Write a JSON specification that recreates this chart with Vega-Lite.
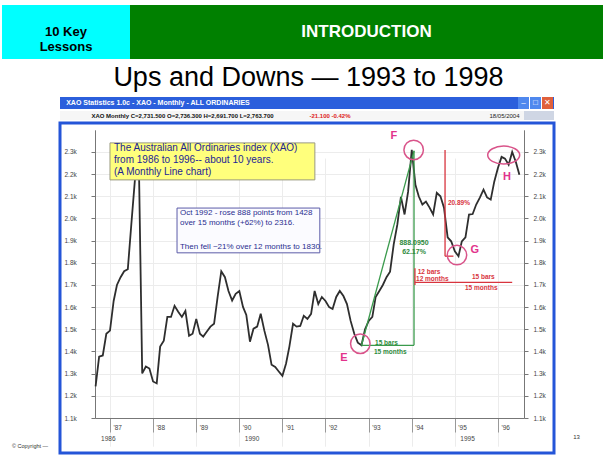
{
  "$schema": "https://vega.github.io/schema/vega-lite/v6.json",
  "padding": {"left": 2, "top": 5, "right": 0, "bottom": 0},
  "background": "white",
  "spacing": 0,
  "config": {"font": "Liberation Sans", "view": {"stroke": null}, "concat": {"spacing": 0}},
  "datasets": {
    "xao": [
      {"date": "1986-09-01", "value": 1243}, {"date": "1986-10-01", "value": 1377}, {"date": "1986-11-01", "value": 1382}, {"date": "1986-12-01", "value": 1480},
      {"date": "1987-01-01", "value": 1494}, {"date": "1987-02-01", "value": 1628}, {"date": "1987-03-01", "value": 1700}, {"date": "1987-04-01", "value": 1735},
      {"date": "1987-05-01", "value": 1762}, {"date": "1987-06-01", "value": 1771}, {"date": "1987-07-01", "value": 1975}, {"date": "1987-08-01", "value": 2180},
      {"date": "1987-09-01", "value": 2310}, {"date": "1987-10-01", "value": 1301}, {"date": "1987-11-01", "value": 1332}, {"date": "1987-12-01", "value": 1323},
      {"date": "1988-01-01", "value": 1265}, {"date": "1988-02-01", "value": 1256}, {"date": "1988-03-01", "value": 1422}, {"date": "1988-04-01", "value": 1449},
      {"date": "1988-05-01", "value": 1556}, {"date": "1988-06-01", "value": 1556}, {"date": "1988-07-01", "value": 1606}, {"date": "1988-08-01", "value": 1579},
      {"date": "1988-09-01", "value": 1556}, {"date": "1988-10-01", "value": 1583}, {"date": "1988-11-01", "value": 1471}, {"date": "1988-12-01", "value": 1480},
      {"date": "1989-01-01", "value": 1547}, {"date": "1989-02-01", "value": 1480}, {"date": "1989-03-01", "value": 1467}, {"date": "1989-04-01", "value": 1490},
      {"date": "1989-05-01", "value": 1512}, {"date": "1989-06-01", "value": 1525}, {"date": "1989-07-01", "value": 1646}, {"date": "1989-08-01", "value": 1762},
      {"date": "1989-09-01", "value": 1735}, {"date": "1989-10-01", "value": 1673}, {"date": "1989-11-01", "value": 1630}, {"date": "1989-12-01", "value": 1660},
      {"date": "1990-01-01", "value": 1673}, {"date": "1990-02-01", "value": 1601}, {"date": "1990-03-01", "value": 1565}, {"date": "1990-04-01", "value": 1444},
      {"date": "1990-05-01", "value": 1503}, {"date": "1990-06-01", "value": 1512}, {"date": "1990-07-01", "value": 1570}, {"date": "1990-08-01", "value": 1494},
      {"date": "1990-09-01", "value": 1430}, {"date": "1990-10-01", "value": 1340}, {"date": "1990-11-01", "value": 1330}, {"date": "1990-12-01", "value": 1310},
      {"date": "1991-01-01", "value": 1290}, {"date": "1991-02-01", "value": 1346}, {"date": "1991-03-01", "value": 1422}, {"date": "1991-04-01", "value": 1525},
      {"date": "1991-05-01", "value": 1512}, {"date": "1991-06-01", "value": 1515}, {"date": "1991-07-01", "value": 1561}, {"date": "1991-08-01", "value": 1547},
      {"date": "1991-09-01", "value": 1570}, {"date": "1991-10-01", "value": 1673}, {"date": "1991-11-01", "value": 1614}, {"date": "1991-12-01", "value": 1646},
      {"date": "1992-01-01", "value": 1628}, {"date": "1992-02-01", "value": 1600}, {"date": "1992-03-01", "value": 1592}, {"date": "1992-04-01", "value": 1646},
      {"date": "1992-05-01", "value": 1673}, {"date": "1992-06-01", "value": 1650}, {"date": "1992-07-01", "value": 1614}, {"date": "1992-08-01", "value": 1538},
      {"date": "1992-09-01", "value": 1480}, {"date": "1992-10-01", "value": 1440}, {"date": "1992-11-01", "value": 1428}, {"date": "1992-12-01", "value": 1500},
      {"date": "1993-01-01", "value": 1538}, {"date": "1993-02-01", "value": 1556}, {"date": "1993-03-01", "value": 1646}, {"date": "1993-04-01", "value": 1673},
      {"date": "1993-05-01", "value": 1700}, {"date": "1993-06-01", "value": 1735}, {"date": "1993-07-01", "value": 1760}, {"date": "1993-08-01", "value": 1883},
      {"date": "1993-09-01", "value": 1973}, {"date": "1993-10-01", "value": 2098}, {"date": "1993-11-01", "value": 2018}, {"date": "1993-12-01", "value": 2121},
      {"date": "1994-01-01", "value": 2310}, {"date": "1994-02-01", "value": 2152}, {"date": "1994-03-01", "value": 2100}, {"date": "1994-04-01", "value": 2063},
      {"date": "1994-05-01", "value": 2076}, {"date": "1994-06-01", "value": 2049}, {"date": "1994-07-01", "value": 2018}, {"date": "1994-08-01", "value": 2116},
      {"date": "1994-09-01", "value": 2100}, {"date": "1994-10-01", "value": 2049}, {"date": "1994-11-01", "value": 1915}, {"date": "1994-12-01", "value": 1897},
      {"date": "1995-01-01", "value": 1852}, {"date": "1995-02-01", "value": 1830}, {"date": "1995-03-01", "value": 1897}, {"date": "1995-04-01", "value": 1915},
      {"date": "1995-05-01", "value": 2018}, {"date": "1995-06-01", "value": 2020}, {"date": "1995-07-01", "value": 2063}, {"date": "1995-08-01", "value": 2094},
      {"date": "1995-09-01", "value": 2130}, {"date": "1995-10-01", "value": 2095}, {"date": "1995-11-01", "value": 2085}, {"date": "1995-12-01", "value": 2166},
      {"date": "1996-01-01", "value": 2228}, {"date": "1996-02-01", "value": 2278}, {"date": "1996-03-01", "value": 2270}, {"date": "1996-04-01", "value": 2242},
      {"date": "1996-05-01", "value": 2300}, {"date": "1996-06-01", "value": 2255}, {"date": "1996-07-01", "value": 2197}
    ],
    "segments": [
      {"from": "1992-11-01", "to": "1994-01-20", "low": 1428, "high": 2305, "kind": "rise"},
      {"from": "1994-01-20", "to": "1994-01-20", "low": 2305, "high": 1428, "kind": "rise"},
      {"from": "1992-11-01", "to": "1994-01-20", "low": 1428, "high": 1428, "kind": "rise"},
      {"from": "1994-10-10", "to": "1994-10-10", "low": 2309, "high": 1830, "kind": "fall"},
      {"from": "1994-10-10", "to": "1994-12-20", "low": 1830, "high": 1830, "kind": "fall"},
      {"from": "1994-01-28", "to": "1994-01-28", "low": 1775, "high": 1700, "kind": "fall"},
      {"from": "1994-01-28", "to": "1996-05-01", "low": 1712, "high": 1712, "kind": "fall"}
    ],
    "rings": [
      {"date": "1992-10-22", "value": 1435, "point": "E"},
      {"date": "1994-01-17", "value": 2309, "point": "F"},
      {"date": "1995-01-19", "value": 1835, "point": "G"}
    ],
    "ovals": [
      {"date": "1996-02-19", "value": 2286, "point": "H"}
    ],
    "boxes": [
      {"from": "1987-01-01", "to": "1991-10-03", "top": 2341, "bottom": 2174, "kind": "intro"},
      {"from": "1988-07-22", "to": "1991-11-14", "top": 2047, "bottom": 1845, "kind": "story"}
    ],
    "notes": [
      {"date": "1987-02-04", "value": 2317, "text": "The Australian All Ordinaries index (XAO)", "kind": "intro"},
      {"date": "1987-02-04", "value": 2264, "text": "from 1986 to 1996-- about 10 years.", "kind": "intro"},
      {"date": "1987-02-04", "value": 2211, "text": "(A Monthly Line chart)", "kind": "intro"},
      {"date": "1988-08-16", "value": 2025, "text": "Oct 1992 - rose 888 points from 1428", "kind": "story"},
      {"date": "1988-08-16", "value": 1980, "text": "over 15 months (+62%) to 2316.", "kind": "story"},
      {"date": "1988-08-16", "value": 1873, "text": "Then fell ~21% over 12 months to 1830.", "kind": "story"},
      {"date": "1994-01-20", "value": 1890, "text": "888.0950", "kind": "riseMid"},
      {"date": "1994-01-20", "value": 1849, "text": "62.17%", "kind": "riseMid"},
      {"date": "1993-02-24", "value": 1439, "text": "15 bars", "kind": "riseLeft"},
      {"date": "1993-02-15", "value": 1398, "text": "15 months", "kind": "riseLeft"},
      {"date": "1994-11-03", "value": 2070, "text": "20.89%", "kind": "fall"},
      {"date": "1994-02-20", "value": 1760, "text": "12 bars", "kind": "fall"},
      {"date": "1994-02-06", "value": 1726, "text": "12 months", "kind": "fall"},
      {"date": "1995-05-26", "value": 1738, "text": "15 bars", "kind": "fall"},
      {"date": "1995-03-28", "value": 1687, "text": "15 months", "kind": "fall"},
      {"date": "1992-06-05", "value": 1371, "text": "E", "kind": "letter"},
      {"date": "1993-08-03", "value": 2372, "text": "F", "kind": "letter"},
      {"date": "1995-06-20", "value": 1858, "text": "G", "kind": "letter"},
      {"date": "1996-03-17", "value": 2187, "text": "H", "kind": "letter"}
    ]
  },
  "vconcat": [
    {
      "spacing": 0,
      "hconcat": [
        {"width": 128, "height": 54, "view": {"fill": "#00ffff", "stroke": null},
         "data": {"values": [{"label": ["10 Key", "Lessons"]}]},
         "mark": {"type": "text", "fontSize": 13, "fontWeight": "bold", "color": "black", "lineHeight": 15, "baseline": "middle"},
         "encoding": {"text": {"field": "label"}}},
        {"width": 473, "height": 54, "view": {"fill": "#008000", "stroke": null},
         "data": {"values": [{"label": "INTRODUCTION"}]},
         "mark": {"type": "text", "fontSize": 17, "fontWeight": "bold", "color": "white", "baseline": "middle"},
         "encoding": {"text": {"field": "label"}}}
      ]
    },
    {"width": 613, "height": 38,
     "data": {"values": [{"label": "Ups and Downs — 1993 to 1998"}]},
     "mark": {"type": "text", "fontSize": 27, "color": "black", "baseline": "middle"},
     "encoding": {"text": {"field": "label"}}},
    {
      "spacing": 0,
      "hconcat": [
        {"spacing": 0, "vconcat": [
          {"width": 56, "height": 345, "data": {"values": [{}]}, "mark": {"type": "text", "text": ""}},
          {"width": 56, "height": 8, "data": {"values": [{"label": "© Copyright —"}]},
           "mark": {"type": "text", "fontSize": 5.5, "color": "#333", "baseline": "middle"},
           "encoding": {"text": {"field": "label"}}}
        ]},
        {"spacing": 0, "vconcat": [
          {"spacing": 0, "hconcat": [
            {"width": 196, "height": 12, "view": {"fill": "#2b5fdc", "stroke": null},
             "data": {"values": [{"label": "XAO Statistics 1.0c - XAO - Monthly - ALL ORDINARIES"}]},
             "mark": {"type": "text", "fontSize": 7, "fontWeight": "bold", "color": "white", "baseline": "middle"},
             "encoding": {"text": {"field": "label"}}},
            {"width": 262, "height": 12, "view": {"fill": "#2b5fdc", "stroke": null},
             "data": {"values": [{}]}, "mark": {"type": "text", "text": ""}},
            {"spacing": 1, "hconcat": [
              {"width": 11, "height": 12, "view": {"fill": "#4f88ee", "stroke": null},
               "data": {"values": [{"label": "–"}]}, "mark": {"type": "text", "fontSize": 8, "color": "white", "baseline": "middle"},
               "encoding": {"text": {"field": "label"}}},
              {"width": 11, "height": 12, "view": {"fill": "#4f88ee", "stroke": null},
               "data": {"values": [{"label": "□"}]}, "mark": {"type": "text", "fontSize": 8, "color": "white", "baseline": "middle"},
               "encoding": {"text": {"field": "label"}}},
              {"width": 11, "height": 12, "view": {"fill": "#e0603c", "stroke": null},
               "data": {"values": [{"label": "✕"}]}, "mark": {"type": "text", "fontSize": 8, "color": "white", "baseline": "middle"},
               "encoding": {"text": {"field": "label"}}}
            ]},
            {"width": 1, "height": 12, "view": {"fill": "#2b5fdc", "stroke": null},
             "data": {"values": [{}]}, "mark": {"type": "text", "text": ""}}
          ]},
          {"spacing": 0, "hconcat": [
            {"width": 245, "height": 9, "view": {"fill": "#f6f6f6", "stroke": null},
             "data": {"values": [{"label": "XAO Monthly   C=2,731.500  O=2,736.300  H=2,691.700  L=2,763.700"}]},
             "mark": {"type": "text", "fontSize": 6, "fontWeight": "bold", "color": "#111", "baseline": "middle"},
             "encoding": {"text": {"field": "label"}}},
            {"width": 50, "height": 9, "view": {"fill": "#f6f6f6", "stroke": null},
             "data": {"values": [{"label": "-21.100   -0.42%"}]},
             "mark": {"type": "text", "fontSize": 6, "fontWeight": "bold", "color": "#d22", "baseline": "middle"},
             "encoding": {"text": {"field": "label"}}},
            {"width": 130, "height": 9, "view": {"fill": "#f6f6f6", "stroke": null},
             "data": {"values": [{}]}, "mark": {"type": "text", "text": ""}},
            {"width": 39, "height": 9, "view": {"fill": "#f6f6f6", "stroke": null},
             "data": {"values": [{"label": "18/05/2004"}]},
             "mark": {"type": "text", "fontSize": 6, "color": "#222", "baseline": "middle"},
             "encoding": {"text": {"field": "label"}}},
            {"width": 30, "height": 9, "view": {"fill": "#cfd6e4", "stroke": null},
             "data": {"values": [{}]}, "mark": {"type": "text", "text": ""}}
          ]},
          {
            "width": 494, "height": 330,
            "view": {"fill": "white", "stroke": "#2455d8", "strokeWidth": 3},
            "resolve": {"axis": {"x": "independent", "y": "independent"}},
            "layer": [
              {
                "data": {"name": "xao"},
                "mark": {"type": "line", "opacity": 0},
                "encoding": {
                  "x": {"field": "date", "type": "temporal",
                        "scale": {"type": "utc", "domain": [{"year": 1986, "month": 8, "date": 27, "utc": true}, {"year": 1996, "month": 8, "date": 9, "utc": true}], "range": [35, 464]},
                        "axis": {"orient": "top", "offset": -315, "values": [{"year": 1986, "month": 9, "date": 1, "utc": true}, {"year": 1990, "utc": true}, {"year": 1995, "utc": true}],
                                 "format": "%Y", "domain": false, "ticks": false, "tickSize": 0, "labelPadding": 0, "labelBaseline": "middle", "labelAlign": "left", "labelOffset": 5,
                                 "grid": false, "title": null, "labelFontSize": 6.5, "labelColor": "#444", "labelFlush": false, "labelOverlap": false}},
                  "y": {"field": "value", "type": "quantitative",
                        "scale": {"domain": [1100, 2400], "range": [295, 6.8], "zero": false, "nice": false},
                        "axis": {"orient": "right", "offset": -30, "values": [1100, 1200, 1300, 1400, 1500, 1600, 1700, 1800, 1900, 2000, 2100, 2200, 2300],
                                 "format": ".2s", "tickSize": 4, "labelPadding": 5, "labelAlign": "left", "domainColor": "#777", "tickColor": "#777",
                                 "labelFontSize": 6.5, "labelColor": "#444", "grid": false, "title": null, "labelFlush": false}}
                }
              },
              {
                "data": {"name": "xao"},
                "mark": {"type": "line", "color": "#2e2e2e", "strokeWidth": 1.8},
                "encoding": {
                  "x": {"field": "date", "type": "temporal",
                        "scale": {"type": "utc", "domain": [{"year": 1986, "month": 8, "date": 27, "utc": true}, {"year": 1996, "month": 8, "date": 9, "utc": true}], "range": [35, 464]},
                        "axis": {"orient": "bottom", "offset": -35,
                                 "values": [{"year": 1987, "utc": true}, {"year": 1988, "utc": true}, {"year": 1989, "utc": true}, {"year": 1990, "utc": true}, {"year": 1991, "utc": true},
                                            {"year": 1992, "utc": true}, {"year": 1993, "utc": true}, {"year": 1994, "utc": true}, {"year": 1995, "utc": true}, {"year": 1996, "utc": true}],
                                 "format": "'%y", "tickSize": 14, "labelPadding": -5, "labelBaseline": "middle", "labelAlign": "left", "labelOffset": 3,
                                 "grid": true, "gridColor": "#ececec", "domainColor": "#777", "tickColor": "#999",
                                 "labelFontSize": 6.5, "labelColor": "#444", "title": null, "labelFlush": false, "labelOverlap": false}},
                  "y": {"field": "value", "type": "quantitative",
                        "scale": {"domain": [1100, 2400], "range": [295, 6.8], "zero": false, "nice": false},
                        "axis": {"orient": "left", "offset": -35, "values": [1100, 1200, 1300, 1400, 1500, 1600, 1700, 1800, 1900, 2000, 2100, 2200, 2300],
                                 "format": ".2s", "tickSize": 4, "labelPadding": 27, "labelAlign": "left", "grid": true, "gridColor": "#ececec",
                                 "domainColor": "#777", "tickColor": "#777", "labelFontSize": 6.5, "labelColor": "#444", "title": null, "labelFlush": false}}
                }
              },
              {
                "data": {"name": "segments"},
                "mark": {"type": "rule", "strokeWidth": 1.3},
                "encoding": {
                  "x": {"field": "from", "type": "temporal", "axis": null},
                  "x2": {"field": "to"},
                  "y": {"field": "low", "type": "quantitative", "axis": null},
                  "y2": {"field": "high"},
                  "color": {"field": "kind", "type": "nominal", "scale": {"domain": ["rise", "fall"], "range": ["#3a9a4c", "#d8343e"]}, "legend": null}
                }
              },
              {
                "data": {"name": "rings"},
                "mark": {"type": "point", "shape": "circle", "size": 380, "filled": false, "color": "#d9548a", "strokeWidth": 1.5, "opacity": 1},
                "encoding": {
                  "x": {"field": "date", "type": "temporal", "axis": null},
                  "y": {"field": "value", "type": "quantitative", "axis": null}
                }
              },
              {
                "data": {"name": "ovals"},
                "mark": {"type": "point", "shape": "M -1 0 A 1 0.56 0 1 0 1 0 A 1 0.56 0 1 0 -1 0 Z", "size": 1024, "filled": false, "color": "#d9548a", "strokeWidth": 1.5, "opacity": 1},
                "encoding": {
                  "x": {"field": "date", "type": "temporal", "axis": null},
                  "y": {"field": "value", "type": "quantitative", "axis": null}
                }
              },
              {
                "data": {"name": "boxes"},
                "transform": [{"filter": "datum.kind === 'intro'"}],
                "mark": {"type": "rect", "fill": "#ffff7c", "stroke": "#9a9a80", "strokeWidth": 1},
                "encoding": {
                  "x": {"field": "from", "type": "temporal", "axis": null},
                  "x2": {"field": "to"},
                  "y": {"field": "top", "type": "quantitative", "axis": null},
                  "y2": {"field": "bottom"}
                }
              },
              {
                "data": {"name": "boxes"},
                "transform": [{"filter": "datum.kind === 'story'"}],
                "mark": {"type": "rect", "fill": "#fbfbff", "stroke": "#5b5ba8", "strokeWidth": 1},
                "encoding": {
                  "x": {"field": "from", "type": "temporal", "axis": null},
                  "x2": {"field": "to"},
                  "y": {"field": "top", "type": "quantitative", "axis": null},
                  "y2": {"field": "bottom"}
                }
              },
              {
                "data": {"name": "notes"},
                "transform": [{"filter": "datum.kind === 'intro'"}],
                "mark": {"type": "text", "align": "left", "baseline": "middle", "fontSize": 10, "color": "#1c2596"},
                "encoding": {
                  "x": {"field": "date", "type": "temporal", "axis": null},
                  "y": {"field": "value", "type": "quantitative", "axis": null},
                  "text": {"field": "text"}
                }
              },
              {
                "data": {"name": "notes"},
                "transform": [{"filter": "datum.kind === 'story'"}],
                "mark": {"type": "text", "align": "left", "baseline": "middle", "fontSize": 8, "color": "#2a2e8f"},
                "encoding": {
                  "x": {"field": "date", "type": "temporal", "axis": null},
                  "y": {"field": "value", "type": "quantitative", "axis": null},
                  "text": {"field": "text"}
                }
              },
              {
                "data": {"name": "notes"},
                "transform": [{"filter": "datum.kind === 'riseMid'"}],
                "mark": {"type": "text", "align": "center", "baseline": "middle", "fontSize": 7, "fontWeight": "bold", "color": "#2e8b3d"},
                "encoding": {
                  "x": {"field": "date", "type": "temporal", "axis": null},
                  "y": {"field": "value", "type": "quantitative", "axis": null},
                  "text": {"field": "text"}
                }
              },
              {
                "data": {"name": "notes"},
                "transform": [{"filter": "datum.kind === 'riseLeft'"}],
                "mark": {"type": "text", "align": "left", "baseline": "middle", "fontSize": 6.5, "fontWeight": "bold", "color": "#2e8b3d"},
                "encoding": {
                  "x": {"field": "date", "type": "temporal", "axis": null},
                  "y": {"field": "value", "type": "quantitative", "axis": null},
                  "text": {"field": "text"}
                }
              },
              {
                "data": {"name": "notes"},
                "transform": [{"filter": "datum.kind === 'fall'"}],
                "mark": {"type": "text", "align": "left", "baseline": "middle", "fontSize": 6.5, "fontWeight": "bold", "color": "#d8343e"},
                "encoding": {
                  "x": {"field": "date", "type": "temporal", "axis": null},
                  "y": {"field": "value", "type": "quantitative", "axis": null},
                  "text": {"field": "text"}
                }
              },
              {
                "data": {"name": "notes"},
                "transform": [{"filter": "datum.kind === 'letter'"}],
                "mark": {"type": "text", "align": "center", "baseline": "middle", "fontSize": 11, "fontWeight": "bold", "color": "#e2338c"},
                "encoding": {
                  "x": {"field": "date", "type": "temporal", "axis": null},
                  "y": {"field": "value", "type": "quantitative", "axis": null},
                  "text": {"field": "text"}
                }
              }
            ]
          }
        ]},
        {"spacing": 0, "vconcat": [
          {"width": 41, "height": 336, "data": {"values": [{}]}, "mark": {"type": "text", "text": ""}},
          {"width": 41, "height": 8, "data": {"values": [{"label": "13"}]},
           "mark": {"type": "text", "fontSize": 6, "color": "#333", "baseline": "middle"},
           "encoding": {"text": {"field": "label"}}}
        ]}
      ]
    }
  ]
}
